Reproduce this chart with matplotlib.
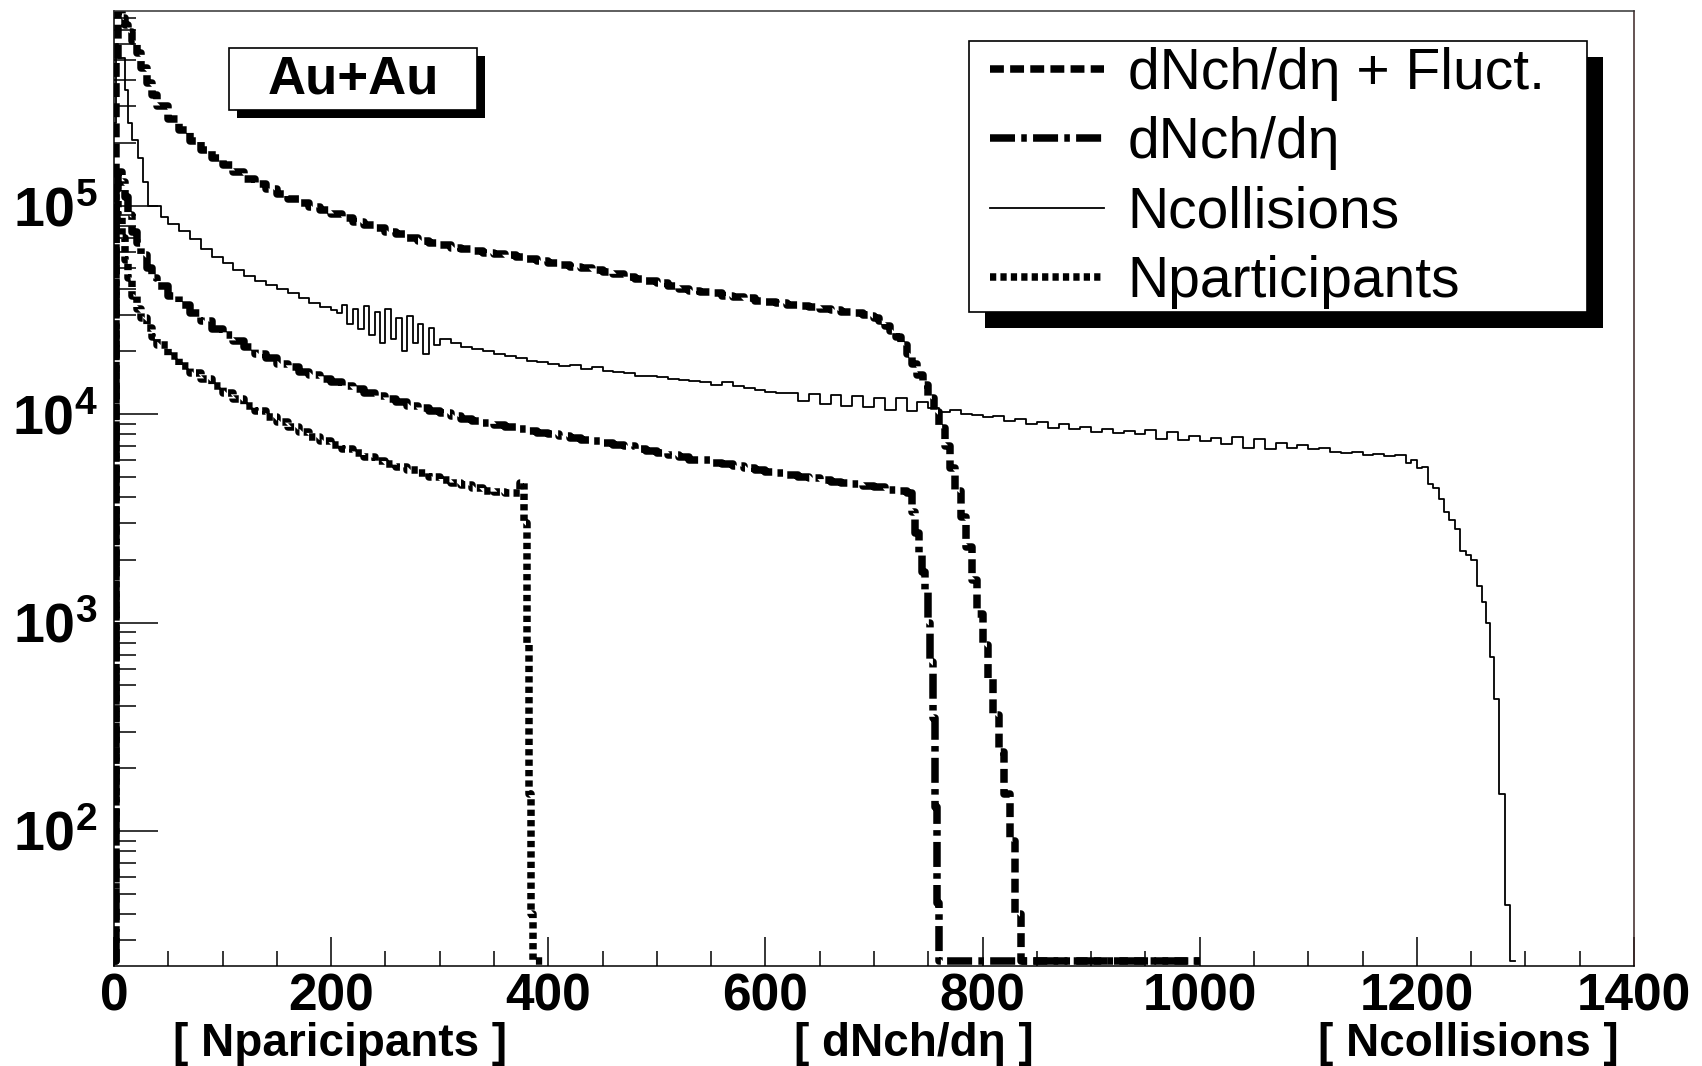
import numpy as np
import matplotlib
matplotlib.use('Agg')
import matplotlib.pyplot as plt
from matplotlib.patches import Rectangle
from matplotlib.ticker import MultipleLocator, LogLocator, NullFormatter
import matplotlib.transforms as mtrans

plt.rcParams['font.family'] = ['Liberation Sans', 'DejaVu Sans']
plt.rcParams['mathtext.fontset'] = 'custom'
plt.rcParams['mathtext.bf'] = 'Liberation Sans:bold'
plt.rcParams['mathtext.rm'] = 'Liberation Sans'
plt.rcParams['lines.scale_dashes'] = False

# ---- histogram data (bin edges + counts) ----
ncoll_edges = np.concatenate([[0, 2, 4, 10, 13, 17, 22, 27, 31, 43],
                              np.arange(50, 210, 10), np.arange(205, 305, 5),
                              np.arange(310, 1200, 10),
                              [1195, 1200, 1205, 1210, 1215, 1220, 1225, 1230, 1235, 1240,
                               1245, 1250, 1255, 1260, 1264, 1267, 1271, 1276, 1281, 1286, 1290]])
ncoll_counts = [2.5e5, 6.0e5, 5.1e5, 3.6e5, 2.5e5, 2.07e5, 1.7e5, 1.3e5, 1.0e5, 8.8e4,
                8.2e4, 7.6e4, 6.9e4, 6.2e4, 5.7e4, 5.3e4, 4.9e4, 4.6e4, 4.35e4, 4.15e4,
                4.0e4, 3.8e4, 3.6e4, 3.4e4, 3.25e4,
                3.15e4, 3.05e4, 3.35e4, 2.7e4, 3.2e4, 2.55e4, 3.3e4, 2.4e4, 3.1e4, 2.2e4,
                3.2e4, 2.3e4, 2.9e4, 2.0e4, 2.95e4, 2.2e4, 2.7e4, 1.95e4, 2.6e4, 2.15e4,
                2.3e4, 2.2e4, 2.1e4, 2.05e4, 2.0e4, 1.95e4, 1.9e4, 1.85e4, 1.8e4, 1.78e4,
                1.74e4, 1.7e4, 1.72e4, 1.65e4, 1.68e4, 1.62e4, 1.6e4, 1.57e4, 1.53e4, 1.52e4,
                1.5e4, 1.48e4, 1.46e4, 1.44e4, 1.43e4, 1.38e4, 1.42e4, 1.36e4, 1.33e4, 1.31e4,
                1.28e4, 1.26e4, 1.27e4, 1.16e4, 1.25e4, 1.12e4, 1.23e4, 1.1e4, 1.22e4, 1.08e4,
                1.2e4, 1.05e4, 1.2e4, 1.03e4, 1.15e4, 1.07e4, 1.02e4, 1.05e4, 1.0e4, 9.9e3,
                9.7e3, 9.8e3, 9.3e3, 9.5e3, 9.0e3, 9.2e3, 8.6e3, 9.0e3, 8.5e3, 8.7e3,
                8.2e3, 8.5e3, 8.1e3, 8.3e3, 8.0e3, 8.4e3, 7.6e3, 8.2e3, 7.5e3, 7.9e3,
                7.4e3, 7.7e3, 7.2e3, 7.8e3, 6.9e3, 7.6e3, 6.8e3, 7.3e3, 6.9e3, 7.1e3,
                6.8e3, 6.9e3, 6.6e3, 6.5e3, 6.55e3, 6.4e3, 6.45e3, 6.3e3, 6.35e3,
                5.8e3, 6.0e3, 5.5e3, 5.6e3, 4.6e3, 4.4e3, 3.9e3, 3.4e3, 3.1e3, 2.8e3,
                2.2e3, 2.1e3, 2.0e3, 1.5e3, 1.26e3, 1.0e3, 680, 430, 150, 44, 0]

fluct_edges = np.concatenate([[0, 2, 4, 7, 10, 13, 17, 21, 25, 30, 35, 40],
                              np.arange(50, 700, 10), np.arange(695, 840, 5), [1000]])
fluct_counts = [10, 5.0e5, 8.6e5, 8.0e5, 7.4e5, 6.8e5, 6.2e5, 5.4e5, 4.6e5, 3.9e5, 3.4e5,
                3.0e5,
                2.6e5, 2.3e5, 2.05e5, 1.85e5, 1.7e5, 1.57e5, 1.46e5, 1.35e5, 1.27e5, 1.2e5,
                1.14e5, 1.08e5, 1.03e5, 9.9e4, 9.5e4, 9.1e4, 8.7e4, 8.4e4, 8.1e4, 7.8e4,
                7.5e4, 7.3e4, 7.0e4, 6.8e4, 6.6e4, 6.45e4, 6.3e4, 6.2e4, 6.05e4, 5.95e4,
                5.85e4, 5.8e4, 5.7e4, 5.55e4, 5.45e4, 5.3e4, 5.2e4, 5.1e4, 5.0e4, 4.9e4,
                4.8e4, 4.7e4, 4.55e4, 4.45e4, 4.35e4, 4.25e4, 4.1e4, 4.0e4, 3.9e4, 3.85e4,
                3.8e4, 3.7e4, 3.65e4, 3.6e4, 3.5e4, 3.45e4, 3.4e4, 3.35e4, 3.3e4, 3.25e4,
                3.2e4, 3.15e4, 3.1e4, 3.05e4,
                3.0e4, 2.95e4, 2.9e4, 2.8e4, 2.65e4, 2.5e4, 2.35e4, 2.15e4, 1.95e4, 1.75e4,
                1.55e4, 1.38e4, 1.2e4, 1.02e4, 8.6e3, 7.0e3, 5.5e3, 4.3e3, 3.2e3, 2.3e3,
                1.6e3, 1.1e3, 780, 540, 360, 240, 150, 90, 40,
                0]

dnch_edges = np.concatenate([[0, 2, 4, 7, 10, 13, 17, 21, 25, 30, 35, 40],
                             np.arange(50, 740, 10),
                             [735, 738, 741, 744, 747, 750, 752, 754, 756, 758, 760, 1000]])
dnch_counts = [10, 1.2e5, 1.45e5, 1.3e5, 1.1e5, 9.0e4, 7.5e4, 6.6e4, 5.8e4, 5.0e4, 4.5e4,
               4.1e4,
               3.7e4, 3.35e4, 3.05e4, 2.8e4, 2.55e4, 2.4e4, 2.25e4, 2.1e4, 1.95e4, 1.85e4,
               1.75e4, 1.68e4, 1.6e4, 1.54e4, 1.47e4, 1.42e4, 1.37e4, 1.32e4, 1.27e4, 1.22e4,
               1.18e4, 1.14e4, 1.1e4, 1.07e4, 1.04e4, 1.01e4, 9.8e3, 9.5e3, 9.3e3, 9.1e3,
               8.9e3, 8.7e3, 8.5e3, 8.3e3, 8.15e3, 8.0e3, 7.85e3, 7.7e3, 7.55e3, 7.4e3,
               7.25e3, 7.1e3, 7.0e3, 6.8e3, 6.65e3, 6.5e3, 6.35e3, 6.2e3, 6.05e3, 6.0e3,
               5.85e3, 5.75e3, 5.65e3, 5.5e3, 5.4e3, 5.3e3, 5.2e3, 5.1e3, 5.0e3, 4.95e3,
               4.85e3, 4.75e3, 4.7e3, 4.6e3, 4.5e3, 4.45e3, 4.35e3, 4.3e3,
               4.2e3, 3.4e3, 2.7e3, 2.1e3, 1.75e3, 1.4e3, 1.0e3, 650, 350, 130, 45, 0]

npart_edges = np.concatenate([[0, 2, 4, 7, 10, 13, 17, 21, 25, 30, 35, 40],
                              np.arange(50, 380, 10),
                              [374, 378, 380, 382, 384, 386, 396]])
npart_counts = [120, 1.1e5, 9.0e4, 7.0e4, 5.5e4, 4.5e4, 3.7e4, 3.2e4, 2.9e4, 2.6e4, 2.35e4,
                2.15e4,
                1.9e4, 1.7e4, 1.58e4, 1.48e4, 1.36e4, 1.27e4, 1.18e4, 1.1e4, 1.03e4, 9.7e3,
                9.2e3, 8.7e3, 8.2e3, 7.8e3, 7.4e3, 7.1e3, 6.8e3, 6.5e3, 6.2e3, 5.95e3,
                5.75e3, 5.55e3, 5.4e3, 5.2e3, 5.0e3, 4.85e3, 4.7e3, 4.55e3, 4.4e3, 4.3e3,
                4.25e3, 4.2e3,
                4.2e3, 4.7e3, 3.0e3, 800, 150, 40, 0]

labels = ['dNch/dη + Fluct.', 'dNch/dη', 'Ncollisions', 'Nparticipants']
xticks = [0, 200, 400, 600, 800, 1000, 1200, 1400]
xtick_labels = ['0', '200', '400', '600', '800', '1000', '1200', '1400']
yticks = [1e2, 1e3, 1e4, 1e5]
ytick_labels = [r'$\mathbf{10^{2}}$', r'$\mathbf{10^{3}}$', r'$\mathbf{10^{4}}$', r'$\mathbf{10^{5}}$']
axis_names = ['[ Nparicipants ]', '[ dNch/dη ]', '[ Ncollisions ]']
axis_name_pos = [208, 737, 1247]

W, H = 1702, 1066
ylo, yhi = 22.5, 8.6e5

fig = plt.figure(figsize=(W / 100, H / 100), dpi=100)
ax = fig.add_axes([114 / W, 1 - 966 / H, 1520 / W, 955 / H])


def draw(edges, counts, **kw):
    y = np.asarray(counts, dtype=float)
    # empty bins are drawn sitting on the bottom axis, as ROOT does
    y = np.where(y <= ylo, ylo * 1.06, y)
    y = np.append(y, y[-1])
    return ax.step(edges, y, where='post', color='black', **kw)[0]


THICK = 5.4
l_ncoll = draw(ncoll_edges, ncoll_counts, lw=1.3, label=labels[2])
l_npart = draw(npart_edges, npart_counts, lw=THICK, ls=(0, (4.5, 3)), label=labels[3])
l_dnch = draw(dnch_edges, dnch_counts, lw=THICK, ls=(0, (18, 4.5, 4, 4.5)), label=labels[1])
l_fluct = draw(fluct_edges, fluct_counts, lw=THICK, ls=(0, (10, 4.5)), label=labels[0])

ax.set_yscale('log')
ax.set_xlim(0, 1400)
ax.set_ylim(ylo, yhi)

ax.set_xticks(xticks, labels=xtick_labels, fontsize=37, fontweight='bold')
ax.xaxis.set_minor_locator(MultipleLocator(50))
ax.set_yticks(yticks, labels=ytick_labels, fontsize=40)
ax.yaxis.set_minor_locator(LogLocator(base=10, subs=np.arange(2, 10) * 1.0, numticks=20))
ax.yaxis.set_minor_formatter(NullFormatter())

ax.tick_params(which='both', direction='in', top=False, right=False, width=1.1)
ax.tick_params(axis='x', which='major', length=21, pad=5)
ax.tick_params(axis='x', which='minor', length=11)
ax.tick_params(axis='y', which='major', length=32, pad=12)
ax.tick_params(axis='y', which='minor', length=16)
for s in ax.spines.values():
    s.set_linewidth(1.1)
ax.spines['right'].set_color('#3b2525')
ax.spines['top'].set_color('#333333')

# axis names under the tick labels
trans = mtrans.blended_transform_factory(ax.transData, fig.transFigure)
for name, xpos in zip(axis_names, axis_name_pos):
    ax.text(xpos, 1 - 1056 / H, name, transform=trans, ha='center', va='baseline',
            fontsize=33, fontweight='bold', clip_on=False)

# legend: own frame with a black drop shadow
ax.add_artist(Rectangle((985 / W, 1 - 328 / H), 618 / W, 271 / H, transform=fig.transFigure,
                        facecolor='black', edgecolor='none', zorder=5, clip_on=False))
ax.add_artist(Rectangle((969 / W, 1 - 312 / H), 618 / W, 271 / H, transform=fig.transFigure,
                        facecolor='white', edgecolor='black', lw=1.2, zorder=5.5, clip_on=False))
leg = ax.legend([l_fluct, l_dnch, l_ncoll, l_npart], labels, loc='upper left',
                bbox_to_anchor=(990 / W, 1 - 47 / H), bbox_transform=fig.transFigure,
                fontsize=41, frameon=False, handlelength=2.0, handletextpad=0.42,
                borderpad=0, labelspacing=0.27, borderaxespad=0)
leg.set_zorder(6)

# "Au+Au" label box with shadow
ax.add_artist(Rectangle((237 / W, 1 - 118 / H), 248 / W, 62 / H, transform=fig.transFigure,
                        facecolor='black', edgecolor='none', zorder=5, clip_on=False))
ax.add_artist(Rectangle((229 / W, 1 - 110 / H), 248 / W, 62 / H, transform=fig.transFigure,
                        facecolor='white', edgecolor='black', lw=1.2, zorder=5.5, clip_on=False))
ax.text(353 / W, 1 - 80 / H, 'Au+Au', transform=fig.transFigure, ha='center', va='center',
        fontsize=38, fontweight='bold', zorder=6)

fig.savefig('out.png', dpi=100)
